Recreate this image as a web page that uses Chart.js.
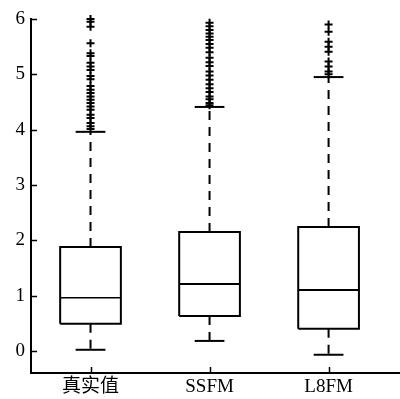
<!DOCTYPE html>
<html>
<head>
<meta charset="utf-8">
<script src="https://cdn.jsdelivr.net/npm/chart.js@4/dist/chart.umd.min.js"></script>
<style>
    html, body { margin: 0; padding: 0; background: #fff; }
    #chart { display: block; }
</style>
</head>
<body>
<canvas id="chart" width="400" height="399"></canvas>
<script>
// Box plot data
const categories = ['真实值', 'SSFM', 'L8FM'];
const q1 = [0.49, 0.63, 0.40];
const medians = [0.96, 1.21, 1.10];
const q3 = [1.88, 2.15, 2.24];
const whiskerLow = [0.02, 0.18, -0.07];
const whiskerHigh = [3.96, 4.41, 4.95];
const outliersTrue = [6.00, 5.95, 5.86, 5.56, 5.38, 5.33, 5.21, 5.14, 5.08, 4.97, 4.91, 4.79, 4.72,
    4.66, 4.60, 4.54, 4.48, 4.42, 4.36, 4.27, 4.21, 4.12, 4.06, 4.01];
const outliersSSFM = [5.93, 5.87, 5.80, 5.74, 5.68, 5.62, 5.55, 5.48, 5.40, 5.30, 5.22, 5.15, 5.05,
    4.98, 4.90, 4.82, 4.75, 4.68, 4.60, 4.55, 4.48, 4.44];
const outliersL8FM = [5.90, 5.77, 5.59, 5.50, 5.41, 5.23, 5.14, 5.05, 5.00];
const outliers = [outliersTrue, outliersSSFM, outliersL8FM];
const yTicks = [0, 1, 2, 3, 4, 5, 6];

const FONT = { family: '"Liberation Serif", "Noto Sans CJK SC", serif', size: 19 };
const BOX_HALF = 0.255;
const CAP_HALF = 0.125;

// Build line segments for each box
const datasets = [];
categories.forEach((cat, i) => {
    const x = i + 1;
    const solid = { borderColor: '#000', pointRadius: 0, showLine: true, fill: false, tension: 0 };
    // box outline
    datasets.push(Object.assign({
        data: [
            { x: x - BOX_HALF, y: q1[i] }, { x: x + BOX_HALF, y: q1[i] },
            { x: x + BOX_HALF, y: q3[i] }, { x: x - BOX_HALF, y: q3[i] },
            { x: x - BOX_HALF, y: q1[i] }
        ],
        borderWidth: 2
    }, solid));
    // median
    datasets.push(Object.assign({
        data: [{ x: x - BOX_HALF, y: medians[i] }, { x: x + BOX_HALF, y: medians[i] }],
        borderWidth: i === 0 ? 1.5 : 2
    }, solid));
    // whiskers (dashed)
    datasets.push(Object.assign({
        data: [{ x: x, y: q3[i] }, { x: x, y: whiskerHigh[i] }],
        borderWidth: 2, borderDash: [9, 7]
    }, solid));
    datasets.push(Object.assign({
        data: [{ x: x, y: q1[i] }, { x: x, y: whiskerLow[i] }],
        borderWidth: 2, borderDash: [9, 7]
    }, solid));
    // caps
    datasets.push(Object.assign({
        data: [{ x: x - CAP_HALF, y: whiskerHigh[i] }, { x: x + CAP_HALF, y: whiskerHigh[i] }],
        borderWidth: 2
    }, solid));
    datasets.push(Object.assign({
        data: [{ x: x - CAP_HALF, y: whiskerLow[i] }, { x: x + CAP_HALF, y: whiskerLow[i] }],
        borderWidth: 2
    }, solid));
    // outliers
    datasets.push({
        data: outliers[i].map(v => ({ x: x, y: v })),
        showLine: false,
        pointStyle: 'cross',
        pointRadius: 4,
        borderWidth: 2,
        borderColor: '#000',
        backgroundColor: '#000'
    });
});

// Inward tick marks
const innerTicks = {
    id: 'innerTicks',
    afterDraw(chart) {
        const { ctx, chartArea, scales } = chart;
        ctx.save();
        ctx.strokeStyle = '#000';
        ctx.lineWidth = 1.5;
        scales.y.ticks.forEach(t => {
            const py = Math.round(scales.y.getPixelForValue(t.value)) + 0.5;
            ctx.beginPath();
            ctx.moveTo(chartArea.left, py);
            ctx.lineTo(chartArea.left + 6, py);
            ctx.stroke();
        });
        scales.x.ticks.forEach(t => {
            const px = Math.round(scales.x.getPixelForValue(t.value)) + 0.5;
            ctx.beginPath();
            ctx.moveTo(px, chartArea.bottom);
            ctx.lineTo(px, chartArea.bottom - 6);
            ctx.stroke();
        });
        ctx.restore();
    }
};

new Chart(document.getElementById('chart'), {
    type: 'scatter',
    data: { datasets: datasets },
    plugins: [innerTicks],
    options: {
        responsive: false,
        animation: false,
        clip: false,
        layout: { autoPadding: false, padding: { top: 19, right: 0, left: 0, bottom: 0 } },
        plugins: {
            legend: { display: false },
            tooltip: { enabled: false }
        },
        scales: {
            x: {
                type: 'linear',
                min: 0.5,
                max: 3.6,
                grid: { display: false, drawTicks: false },
                border: { display: true, color: '#000', width: 2 },
                afterBuildTicks(axis) {
                    axis.ticks = categories.map((c, i) => ({ value: i + 1 }));
                },
                afterFit(axis) {
                    axis.height = 26;
                    axis.paddingLeft = 0;
                    axis.paddingRight = 0;
                },
                ticks: {
                    color: '#000',
                    font: FONT,
                    padding: 3,
                    maxRotation: 0,
                    autoSkip: false,
                    callback: (v) => categories[v - 1]
                }
            },
            y: {
                min: -0.4,
                max: 6,
                grid: { display: false, drawTicks: false },
                border: { display: true, color: '#000', width: 2 },
                afterBuildTicks(axis) {
                    axis.ticks = yTicks.map(v => ({ value: v }));
                },
                afterFit(axis) {
                    axis.width = 31;
                    axis.paddingTop = 0;
                    axis.paddingBottom = 0;
                },
                ticks: {
                    color: '#000',
                    font: FONT,
                    padding: 6,
                    callback: (v) => String(v)
                }
            }
        }
    }
});
</script>
</body>
</html>
